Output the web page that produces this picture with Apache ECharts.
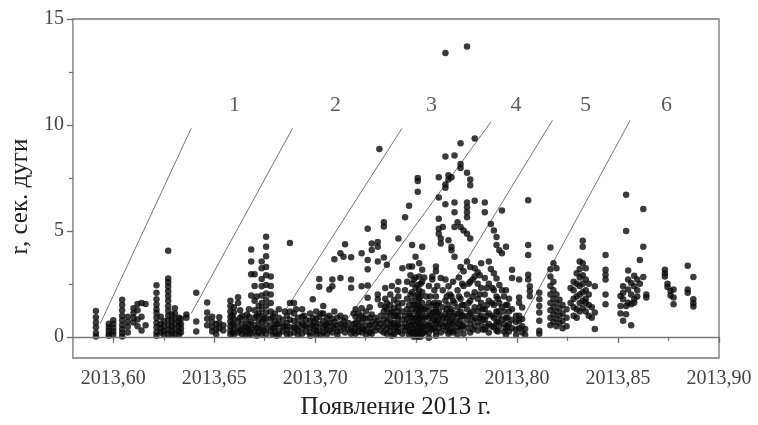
<!DOCTYPE html>
<html>
<head>
<meta charset="utf-8">
<script src="https://cdn.jsdelivr.net/npm/echarts@6/dist/echarts.min.js"></script>
<style>
  html, body { margin: 0; padding: 0; background: #fff; }
  #chart { width: 758px; height: 425px; }
</style>
</head>
<body>
<div id="chart"></div>
<script>
// Axis ticks
const xTicks = [2013.60, 2013.65, 2013.70, 2013.75, 2013.80, 2013.85, 2013.90];
const xMinorTicks = [2013.625, 2013.675, 2013.725, 2013.775, 2013.825, 2013.875];
const yTicks = [0, 5, 10, 15];
const yMinorTicks = [2.5, 7.5, 12.5];

// Observation epochs (fraction of year 2013) and the r values measured at each
const epochs = [
  2013.5914, 2013.5978, 2013.6000, 2013.6044, 2013.6072, 2013.6100, 2013.6120, 2013.6140, 2013.6160,
  2013.6214, 2013.6235, 2013.6250, 2013.6272, 2013.6290, 2013.6305, 2013.6325, 2013.6335,

  2013.6362, 2013.6411, 2013.6465, 2013.6490, 2013.6510, 2013.6525, 2013.6545, 2013.6580, 2013.6590,
  2013.6597, 2013.6618, 2013.6628, 2013.6638, 2013.6655, 2013.6662, 2013.6672, 2013.6683, 2013.6700,
  2013.6710, 2013.6720, 2013.6735, 2013.6745, 2013.6757, 2013.6780, 2013.6790, 2013.6800, 2013.6810,
  2013.6820, 2013.6840, 2013.6850, 2013.6860, 2013.6875,

  2013.6895, 2013.6905, 2013.6915, 2013.6935, 2013.6945, 2013.6955, 2013.6975, 2013.6988, 2013.6995,
  2013.7005, 2013.7020, 2013.7030, 2013.7040, 2013.7050, 2013.7058, 2013.7070, 2013.7085, 2013.7095,
  2013.7110, 2013.7125, 2013.7140, 2013.7148, 2013.7165, 2013.7178, 2013.7190, 2013.7200, 2013.7215,
  2013.7230, 2013.7240, 2013.7252, 2013.7260, 2013.7270, 2013.7280, 2013.7298, 2013.7310, 2013.7318,
  2013.7325, 2013.7340, 2013.7347, 2013.7355, 2013.7372, 2013.7380, 2013.7390, 2013.7400, 2013.7408,

  2013.7412, 2013.7432, 2013.7445, 2013.7455, 2013.7465, 2013.7472, 2013.7480, 2013.7488, 2013.7497,
  2013.7508, 2013.7515, 2013.7522, 2013.7530, 2013.7540, 2013.7550, 2013.7563, 2013.7570, 2013.7580,
  2013.7590, 2013.7598, 2013.7605, 2013.7612, 2013.7622, 2013.7632, 2013.7645, 2013.7652, 2013.7660,
  2013.7668, 2013.7675, 2013.7683, 2013.7690, 2013.7705, 2013.7712, 2013.7720, 2013.7728, 2013.7735,
  2013.7752, 2013.7760, 2013.7768, 2013.7780, 2013.7790, 2013.7805, 2013.7815, 2013.7822, 2013.7830,
  2013.7840, 2013.7850, 2013.7860, 2013.7870, 2013.7878, 2013.7885, 2013.7898, 2013.7905, 2013.7912,
  2013.7925, 2013.7935, 2013.7945, 2013.7952, 2013.7960,

  2013.7975, 2013.7995, 2013.8010, 2013.8025, 2013.8040, 2013.8055, 2013.8063, 2013.8110, 2013.8165,
  2013.8180, 2013.8195, 2013.8210, 2013.8225, 2013.8245, 2013.8265, 2013.8280, 2013.8295, 2013.8310,
  2013.8325, 2013.8340, 2013.8355, 2013.8370, 2013.8385, 2013.8438,

  2013.8512, 2013.8525, 2013.8540, 2013.8550, 2013.8565, 2013.8580, 2013.8595, 2013.8608, 2013.8625,
  2013.8640, 2013.8732, 2013.8745, 2013.8760, 2013.8775, 2013.8845, 2013.8873
];

const radii = [
  [1.22, 0.92, 0.68, 0.45, 0.18, 0.02],
  [0.62, 0.45, 0.3, 0.15, 0.05],
  [0.78, 0.6, 0.42, 0.25, 0.08],
  [1.75, 1.5, 1.25, 1.0, 0.78, 0.56, 0.36, 0.18, 0.02],
  [0.95, 0.7, 0.48, 0.2],
  [1.35, 1.12, 0.9, 0.68],
  [1.55, 1.25, 0.82, 0.5],
  [1.6, 0.95, 0.3],
  [1.55, 0.55],
  [2.43, 2.08, 1.77, 1.53, 1.3, 1.12, 0.9, 0.66, 0.45, 0.22, 0.05],
  [0.95, 0.62, 0.4, 0.2],
  [0.75, 0.5, 0.28, 0.1],
  [4.06, 2.75, 2.58, 2.38, 2.15, 1.93, 1.7, 1.46, 1.23, 1.0, 0.78, 0.55, 0.32, 0.12],
  [1.05, 0.78, 0.52, 0.3, 0.1],
  [1.35, 1.1, 0.85, 0.6, 0.35, 0.12],
  [0.9, 0.7, 0.5, 0.28, 0.1],
  [0.85, 0.6, 0.4, 0.2],

  [1.05, 0.9],
  [2.08, 0.72, 0.25],
  [1.62, 1.15, 0.85, 0.55],
  [0.95, 0.7, 0.45, 0.25],
  [0.6, 0.35, 0.12],
  [0.92, 0.65, 0.4],
  [0.55, 0.3],
  [1.7, 1.45, 1.2, 0.95, 0.72, 0.5, 0.3, 0.12],
  [1.0, 0.62, 0.2],
  [1.4, 1.15, 0.85, 0.55, 0.3, 0.1],
  [1.87, 1.6, 0.75, 0.45, 0.2],
  [1.25, 0.9, 0.3],
  [1.0, 0.6, 0.35, 0.12],
  [0.8, 0.5, 0.25, 0.08],
  [1.05, 0.4],
  [1.3, 0.95, 0.62, 0.35, 0.12],
  [4.12, 3.55, 2.95, 1.95, 0.7, 0.4, 0.15],
  [2.95, 2.4, 1.7, 1.25, 0.9, 0.55, 0.25],
  [1.9, 1.0, 0.4, 0.05],
  [1.45, 1.1, 0.75, 0.45, 0.2],
  [3.55, 3.24, 2.73, 2.39, 1.95, 1.6, 1.3, 1.0, 0.7, 0.42, 0.15],
  [0.85, 0.3],
  [4.72, 4.25, 3.8, 3.3, 2.9, 2.45, 2.05, 1.75, 1.45, 1.15, 0.88, 0.6, 0.35, 0.12],
  [2.85, 2.4, 2.0, 1.6, 1.2, 0.85, 0.55, 0.28],
  [0.95, 0.4, 0.1],
  [1.1, 0.75, 0.45, 0.2],
  [0.6, 0.05],
  [1.3, 0.9, 0.6, 0.3, 0.1],
  [0.8, 0.5, 0.25],
  [1.2, 0.5],
  [1.0, 0.65, 0.35, 0.12],
  [4.43, 1.6, 1.2, 0.8, 0.45, 0.15],

  [1.6, 1.1, 0.75, 0.45, 0.2],
  [1.3, 0.4],
  [0.9, 0.6, 0.3, 0.1],
  [1.3, 0.95, 0.65, 0.4, 0.15],
  [1.0, 0.55],
  [0.8, 0.5, 0.25],
  [1.1, 0.75, 0.45, 0.2, 0.05],
  [1.77, 0.9, 0.55],
  [0.7, 0.35],
  [1.2, 0.85, 0.5, 0.25, 0.1],
  [2.73, 2.36, 0.95, 0.6, 0.3],
  [1.1, 0.1],
  [1.46, 1.1, 0.75, 0.45, 0.2],
  [0.55],
  [0.9, 0.6, 0.35, 0.12],
  [2.23, 1.0, 0.65, 0.3],
  [2.7, 2.39, 0.85, 0.5, 0.2],
  [3.66, 1.2, 0.7, 0.4],
  [0.9, 0.55, 0.25, 0.08],
  [3.94, 2.78, 1.0, 0.6, 0.3],
  [3.78, 0.75, 0.45],
  [4.37, 0.9, 0.55, 0.2],
  [0.65, 0.35],
  [3.75, 2.7, 2.31, 0.4, 0.15],
  [1.1, 0.6, 0.25],
  [1.3, 0.95, 0.65, 0.4, 0.15],
  [1.1, 0.8, 0.5, 0.25],
  [3.94, 2.39, 1.35, 1.0, 0.7, 0.45, 0.2],
  [0.9, 0.35],
  [1.2, 0.85, 0.55, 0.3, 0.1],
  [5.1, 3.63, 3.19, 2.42, 1.84],
  [1.4, 0.9, 0.55, 0.2],
  [4.4, 4.1, 1.05, 0.7, 0.4, 0.15],
  [0.9, 0.6, 0.3],
  [4.48, 4.25, 3.55, 2.0, 1.77, 0.75, 0.45],
  [8.87],
  [1.5, 1.0, 0.6, 0.3],
  [5.41, 5.21, 3.74, 1.2, 0.8, 0.5, 0.2],
  [2.3, 1.8, 1.4],
  [3.4, 1.6, 1.3, 1.0, 0.7, 0.4, 0.15],
  [2.0, 1.5, 1.1, 0.8, 0.5, 0.25],
  [2.4, 1.2, 0.6, 0.05],
  [1.75, 1.35, 1.0, 0.65, 0.35, 0.1],
  [1.0, 0.45],
  [2.2, 1.6, 1.2, 0.85, 0.55, 0.25],

  [4.64, 2.6, 1.9, 1.4, 1.0, 0.6, 0.25],
  [3.24, 1.6, 1.2, 0.8, 0.45, 0.15],
  [5.64, 2.2, 1.0, 0.6, 0.3],
  [2.6, 1.8, 1.3, 0.85, 0.45],
  [6.19, 3.32, 1.5, 1.1, 0.7, 0.35, 0.1],
  [2.9, 2.0, 1.0, 0.55, 0.2],
  [4.33, 3.32, 2.5, 2.1, 1.7, 1.3, 0.9, 0.55, 0.2],
  [2.7, 1.5, 0.75, 0.35, 0.0],
  [3.78, 2.8, 2.3, 1.9, 1.5, 1.2, 0.9, 0.6, 0.3, 0.05],
  [7.5, 7.35, 6.85, 2.45, 2.0, 1.65, 1.3, 1.0, 0.7, 0.4, 0.15, 0.0],
  [3.47, 2.85, 2.2, 1.8, 1.45, 1.15, 0.85, 0.55, 0.25, 0.05],
  [2.5, 1.9, 1.35, 0.95, 0.6, 0.3, 0.0],
  [4.25, 3.16, 2.6, 2.1, 1.6, 1.2, 0.8, 0.45, 0.15],
  [2.8, 1.3, 0.9, 0.5, 0.2],
  [1.9, 1.4, 1.0, 0.6, 0.3],
  [2.4, 1.6, 1.25, 0.9, 0.55, 0.2, -0.05],
  [1.9, 1.0, 0.45],
  [2.85, 2.7, 1.5, 1.1, 0.7, 0.35],
  [2.2, 1.6, 1.2, 0.8, 0.4],
  [3.32, 3.09, 1.9, 1.3, 0.95, 0.6, 0.25, 0.05],
  [2.4, 1.5, 1.1, 0.7],
  [7.53, 6.57, 5.57, 5.1, 4.87, 1.6, 1.2, 0.8, 0.4],
  [4.64, 4.4, 2.78, 1.0, 0.6, 0.2],
  [5.18, 2.2, 1.4, 0.9, 0.5],
  [13.4, 8.51, 7.19, 7.04, 6.26, 2.7, 1.7, 1.1, 0.7, 0.3],
  [1.9, 1.3, 0.9, 0.45],
  [7.63, 7.43, 4.56, 2.39, 1.5, 1.0, 0.55, 0.15],
  [2.0, 1.2, 0.7, 0.25],
  [7.53, 4.25, 4.09, 1.9, 1.3, 0.8, 0.4],
  [2.6, 1.7, 1.0, 0.6, 0.2],
  [8.56, 6.34, 5.88, 5.18, 3.78, 1.6, 1.1, 0.7, 0.3],
  [5.41, 2.2, 1.4, 0.9, 0.45, 0.1],
  [2.8, 1.9, 1.1, 0.6],
  [9.13, 8.16, 7.97, 5.18, 3.3, 1.8, 1.2, 0.75, 0.35],
  [2.5, 1.5, 1.0, 0.5],
  [5.02, 3.1, 2.4, 1.5, 1.0, 0.55, 0.15],
  [13.7, 7.74, 6.34, 6.11, 5.88, 5.64, 4.87, 3.55, 2.0, 1.3, 0.8, 0.4],
  [2.5, 1.6, 1.0],
  [7.43, 7.15, 4.64, 3.3, 2.6, 1.7, 1.1, 0.6, 0.2],
  [2.7, 1.9, 1.2, 0.8, 0.35],
  [9.36, 6.42, 3.24, 2.85, 2.1, 1.4, 0.9, 0.5],
  [3.05, 2.5, 1.8, 1.2, 0.7, 0.3],
  [2.9, 2.0, 1.4, 0.9],
  [3.47, 2.3, 1.6, 1.0, 0.55],
  [1.3, 0.8, 0.35],
  [6.34, 5.88, 2.78, 2.0, 1.3, 0.8, 0.35],
  [2.3, 1.5, 1.0, 0.5],
  [3.55, 2.5, 1.7, 1.1, 0.6, 0.2],
  [5.33, 3.2],
  [2.3, 1.6, 1.0, 0.5],
  [5.02, 3.0, 2.2, 1.5, 0.9, 0.45],
  [4.71, 4.33, 2.75, 1.9, 1.2, 0.7, 0.3],
  [1.8, 1.2, 0.7, 0.25],
  [4.09, 2.45, 1.6, 1.0, 0.5],
  [5.96, 3.94, 2.2, 1.4, 0.8],
  [1.9, 1.2, 0.6, 0.25],
  [4.25, 2.2, 1.5, 0.9, 0.4, 0.1],
  [1.5, 0.9, 0.5],
  [1.8, 1.2, 0.6, 0.25],

  [3.16, 2.78, 1.3, 0.8, 0.4],
  [1.0, 0.7, 0.35, 0.1],
  [2.7, 1.85, 1.61, 1.0, 0.76, 0.4],
  [1.38, 0.84, 0.5, 0.2],
  [0.37, 0.1],
  [6.45, 4.33, 3.86, 2.93, 2.7],
  [2.39, 2.16, 1.92],
  [2.08, 1.77, 1.46, 1.15, 0.76, 0.29, 0.15],
  [4.22, 3.19, 2.85, 2.4, 2.0, 1.6, 1.25, 0.9, 0.55],
  [3.47, 2.6, 2.2, 1.8, 1.4, 1.05, 0.7],
  [3.24, 2.0, 1.6, 1.2, 0.85, 0.5],
  [1.75, 1.35, 1.0, 0.65],
  [1.5, 1.1, 0.75, 0.4],
  [1.3, 0.9, 0.5],
  [2.3, 1.6],
  [2.6, 2.2, 1.8, 1.4, 1.0],
  [3.0, 2.5, 1.9, 1.3, 0.9],
  [3.55, 3.2, 2.8, 2.4, 2.0, 1.6, 1.2],
  [4.53, 4.25, 3.47, 2.9, 2.5, 2.1, 1.7, 1.35],
  [3.24, 2.7, 2.2, 1.8, 1.61, 1.2],
  [2.5, 2.0, 1.5, 1.0],
  [1.4, 0.9],
  [2.39, 1.15, 0.37],
  [3.86, 3.16, 2.93, 2.7, 2.0, 1.54],

  [1.93, 1.45, 1.1],
  [2.39, 2.08, 1.77, 0.76],
  [6.7, 5.0, 1.46, 1.07],
  [3.13, 2.7, 2.23, 1.61],
  [2.54, 2.0, 1.54, 0.55],
  [2.88, 2.39, 1.77, 1.61],
  [2.7, 2.2, 1.9],
  [3.63, 2.5],
  [6.03, 4.25, 2.82],
  [2.0, 1.85],
  [3.16, 3.0, 2.85],
  [2.5, 2.35],
  [2.16, 1.95],
  [2.23, 1.85, 1.54],
  [3.35, 2.23, 2.08],
  [2.82, 1.77, 1.58, 1.43]
];

// Slanted separating lines: [epoch start, r start, epoch end, r end]
const boundaryLines = [
  [2013.5935, 0.61, 2013.6386, 9.84],
  [2013.6386, 1.10, 2013.6888, 9.84],
  [2013.6854, 1.28, 2013.7430, 9.84],
  [2013.7165, 0.91, 2013.7871, 10.15],
  [2013.7552, 0.52, 2013.8175, 10.22],
  [2013.8027, 0.85, 2013.8560, 10.22]
];

// Group numbers written above the lines
const groupLabels = ['1', '2', '3', '4', '5', '6'];
const groupLabelEpochs = [2013.6600, 2013.7100, 2013.7576, 2013.7994, 2013.8339, 2013.8740];
const groupLabelR = 10.95;

const points = [];
epochs.forEach((t, i) => radii[i].forEach(r => points.push([t, r])));

const serif = '"Liberation Serif", "Times New Roman", serif';
const tickColor = '#6e6e6e';

const series = [
  {
    type: 'scatter',
    data: points,
    symbol: 'circle',
    symbolSize: 6.5,
    itemStyle: { color: '#0a0a0a' },
    silent: true,
    z: 3,
    markLine: {
      silent: true,
      symbol: 'none',
      label: { show: false },
      lineStyle: { color: '#777', width: 1.3, type: 'solid' },
      data: [{ yAxis: 0 }]
    }
  }
];

boundaryLines.forEach(l => {
  series.push({
    type: 'line',
    data: [[l[0], l[1]], [l[2], l[3]]],
    showSymbol: false,
    symbol: 'none',
    silent: true,
    lineStyle: { color: '#777', width: 1 },
    z: 2
  });
});

series.push({
  type: 'scatter',
  data: groupLabels.map((s, i) => ({ value: [groupLabelEpochs[i], groupLabelR], name: s })),
  symbolSize: 0,
  silent: true,
  label: {
    show: true,
    position: 'inside',
    formatter: p => p.name,
    fontFamily: serif,
    fontSize: 22,
    color: '#333'
  }
});

const chart = echarts.init(document.getElementById('chart'), null, { renderer: 'canvas' });
chart.setOption({
  animation: false,
  backgroundColor: '#fff',
  grid: {
    left: 68, right: 39, top: 19, bottom: 62,
    show: true, borderColor: '#777', borderWidth: 1.3, backgroundColor: 'transparent'
  },
  xAxis: [
    {
      type: 'value', min: 2013.58, max: 2013.90,
      name: 'Появление 2013 г.', nameLocation: 'middle', nameGap: 37,
      nameTextStyle: { fontFamily: serif, fontSize: 25, color: '#222' },
      axisLine: { show: false },
      splitLine: { show: false },
      axisTick: { show: true, customValues: xTicks, length: 6, lineStyle: { color: tickColor, width: 1.3 } },
      axisLabel: {
        customValues: xTicks, margin: 11,
        fontFamily: serif, fontSize: 20, color: '#444',
        formatter: v => v.toFixed(2).replace('.', ',')
      }
    },
    {
      type: 'value', min: 2013.58, max: 2013.90, position: 'bottom',
      axisLine: { show: false },
      splitLine: { show: false },
      axisTick: { show: true, customValues: xMinorTicks, length: 4, lineStyle: { color: tickColor, width: 1.2 } },
      axisLabel: { show: false }
    }
  ],
  yAxis: [
    {
      type: 'value', min: -1, max: 15,
      name: 'r, сек. дуги', nameLocation: 'middle', nameGap: 38, nameRotate: 90,
      nameTextStyle: { fontFamily: serif, fontSize: 25, color: '#222', padding: [0, 16, 0, 0] },
      axisLine: { show: false },
      splitLine: { show: false },
      axisTick: { show: true, customValues: yTicks, length: 6, lineStyle: { color: tickColor, width: 1.3 } },
      axisLabel: { customValues: yTicks, margin: 9, fontFamily: serif, fontSize: 20, color: '#444' }
    },
    {
      type: 'value', min: -1, max: 15, position: 'left',
      axisLine: { show: false },
      splitLine: { show: false },
      axisTick: { show: true, customValues: yMinorTicks, length: 4, lineStyle: { color: tickColor, width: 1.2 } },
      axisLabel: { show: false }
    }
  ],
  series: series
});
</script>
</body>
</html>
